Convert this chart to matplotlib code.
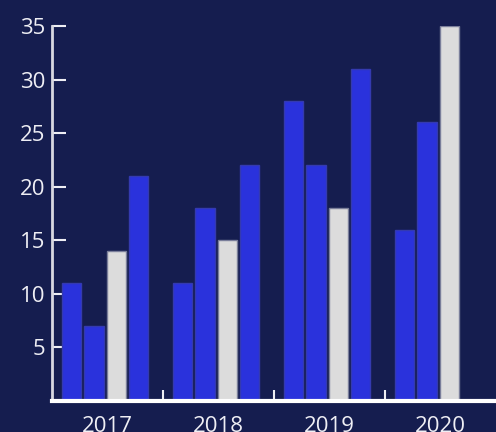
import numpy as np
import matplotlib.pyplot as plt

years = ['2017', '2018', '2019', '2020']
serie_a = [11, 11, 28, 16]
serie_b = [7, 18, 22, 26]
serie_c = [14, 15, 18, 35]
serie_d = [21, 22, 31, np.nan]
yticks = [5, 10, 15, 20, 25, 30, 35]

fondo = '#151d4f'
azul = '#2a32dc'
gris = '#dcdcdc'
texto = '#eeeef4'

plt.rcParams['font.family'] = ['Open Sans', 'DejaVu Sans']

fig = plt.figure(figsize=(4.96, 4.32), dpi=100, facecolor=fondo)
ax = fig.add_axes([52 / 496, 31 / 432, 1 - 52 / 496, 375 / 432])
ax.set_facecolor(fondo)

x = np.arange(len(years))
paso = 0.2
ancho = 0.172
desfase = -0.022
series = [(serie_a, azul, '#343ab0'), (serie_b, azul, '#343ab0'),
          (serie_c, gris, '#7a7e9a'), (serie_d, azul, '#343ab0')]
for i, (vals, color, borde) in enumerate(series):
    ax.bar(x + desfase + (i - 1.5) * paso, vals, width=ancho, color=color,
           edgecolor=borde, linewidth=1.0, zorder=2)

ax.set_xlim(-0.5, 3.5)
ax.set_ylim(0, 35)

ax.set_yticks(yticks)
ax.tick_params(axis='y', direction='in', length=10, width=1.5, colors=texto,
               labelsize=16, pad=5)
ax.set_xticks(x)
ax.set_xticklabels(years)
ax.tick_params(axis='x', which='major', length=0, colors=texto, labelsize=16, pad=11)
ax.set_xticks([0.5, 1.5, 2.5], minor=True)
ax.tick_params(axis='x', which='minor', direction='in', length=8, width=1.5,
               color=texto)

for lado in ['top', 'right']:
    ax.spines[lado].set_visible(False)
ax.spines['left'].set_color('#d8d8e0')
ax.spines['left'].set_linewidth(2)
ax.spines['bottom'].set_color('white')
ax.spines['bottom'].set_linewidth(3)
ax.spines['bottom'].set_zorder(3)

fig.savefig('out.png', dpi=100, facecolor=fondo)
